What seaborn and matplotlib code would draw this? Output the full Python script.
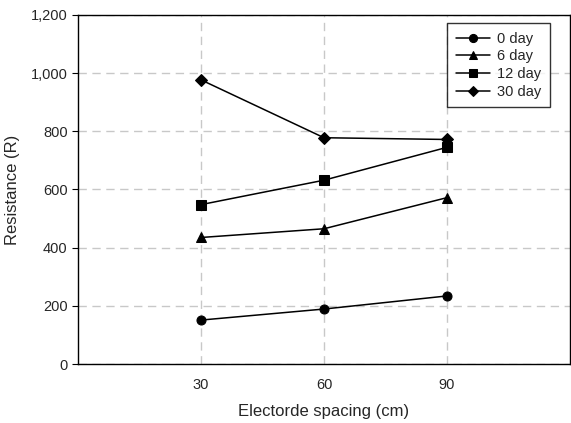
import matplotlib
matplotlib.use("Agg")
import matplotlib.pyplot as plt
import seaborn as sns
import pandas as pd

spacing = [30, 60, 90]
day0 = [151, 189, 234]
day6 = [435, 465, 572]
day12 = [548, 632, 745]
day30 = [977, 778, 772]
series_names = ["0 day", "6 day", "12 day", "30 day"]
markers = ["o", "^", "s", "D"]

rows = []
for name, vals in zip(series_names, [day0, day6, day12, day30]):
    for x, v in zip(spacing, vals):
        rows.append({"spacing": x, "resistance": v, "series": name})
df = pd.DataFrame(rows)

sns.set_style("white")
plt.rcParams["font.family"] = ["Liberation Sans", "DejaVu Sans"]

fig = plt.figure(figsize=(5.71, 4.23), dpi=100)
ax = fig.add_axes([78/571, 59/423, 492/571, 349/423])

for name, m in zip(series_names, markers):
    sub = df[df["series"] == name]
    sns.lineplot(data=sub, x="spacing", y="resistance", ax=ax, color="black",
                 marker=m, markersize=6.5 if m != "D" else 6, markeredgecolor="black",
                 linewidth=1.1, label=name)

ax.set_xlim(0, 120)
ax.set_ylim(0, 1200)
ax.set_xticks(spacing)
ax.set_yticks(range(0, 1201, 200))
ax.set_yticklabels([f"{v:,}" for v in range(0, 1201, 200)])
ax.grid(True, color="#c8c8c8", linestyle=(0, (6, 4)), linewidth=1.0)
ax.set_axisbelow(True)
for s in ax.spines.values():
    s.set_color("black")
    s.set_linewidth(1.0)
ax.tick_params(axis="both", labelsize=10.5, length=4, direction="out", color="black",
               bottom=True, left=True)
ax.tick_params(axis="x", length=0, pad=10)
ax.set_xlabel("Electorde spacing (cm)", fontsize=12, labelpad=9)
ax.set_ylabel("Resistance (R)", fontsize=12, labelpad=8)

leg = ax.legend(loc="upper right", bbox_to_anchor=(0.959, 0.977), borderaxespad=0,
                frameon=True, fancybox=False, edgecolor="black", fontsize=10.5,
                handlelength=2.3, borderpad=0.6, labelspacing=0.25, handletextpad=0.5,
                markerscale=0.9)
leg.get_frame().set_linewidth(1.0)

fig.savefig("out.png", dpi=100)
